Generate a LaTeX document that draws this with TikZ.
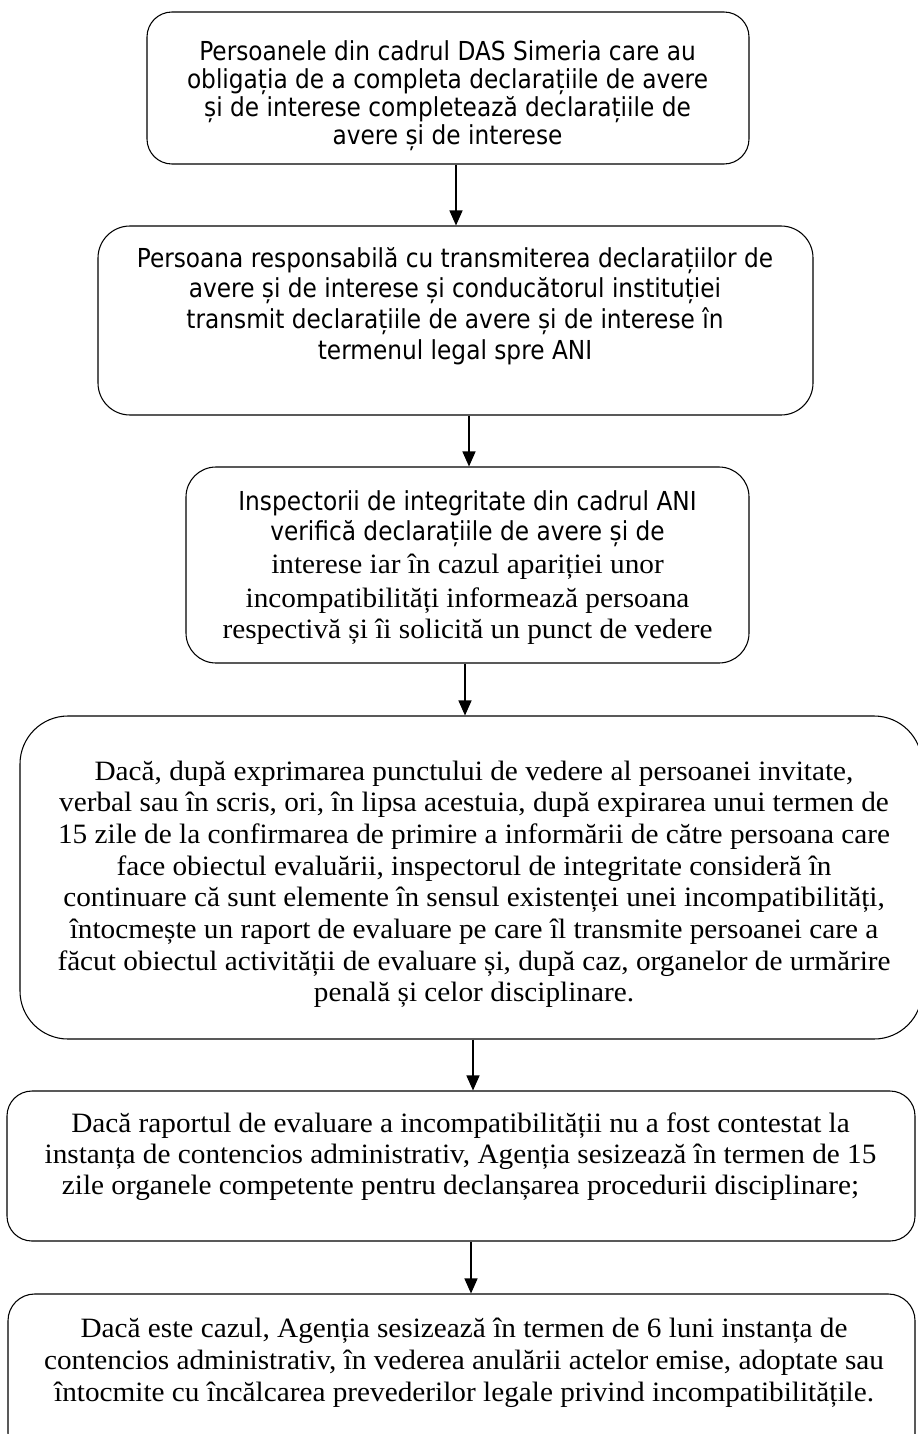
\documentclass[tikz,border=0pt]{standalone}
\usepackage{fontspec}
\usetikzlibrary{arrows.meta}
\newfontfamily\sansf[FakeStretch=0.89]{DejaVu Sans}
\newfontfamily\seriff[FakeStretch=1.045]{Liberation Serif}
\begin{document}
\begin{tikzpicture}[x=0.75pt,y=-0.75pt,
  box/.style={draw, line width=0.8pt, rectangle, inner sep=0pt},
  sline/.style={anchor=base, inner sep=0pt, font=\sansf\fontsize{19.6pt}{24pt}\selectfont},
  rline/.style={anchor=base, inner sep=0pt, font=\seriff\fontsize{21pt}{25pt}\selectfont},
  arr/.style={line width=1.1pt, -{Triangle[length=11.25pt,width=9.75pt]}}]
\useasboundingbox (0,0) rectangle (917,1434);

% boxes
\node[box, rounded corners=18.75pt, minimum width=451.5pt, minimum height=114pt] (b1) at (448,88) {};
\node[box, rounded corners=24pt, minimum width=536.25pt, minimum height=141.75pt] (b2) at (455.5,320.5) {};
\node[box, rounded corners=22.5pt, minimum width=422.25pt, minimum height=147pt] (b3) at (467.5,565) {};
\node[box, rounded corners=36pt, minimum width=676.5pt, minimum height=242.25pt] (b4) at (471,877.5) {};
\node[box, rounded corners=18.75pt, minimum width=681pt, minimum height=112.5pt] (b5) at (461,1166) {};
\node[box, rounded corners=20pt, minimum width=680.25pt, minimum height=124.5pt] (b6) at (461.5,1377) {};

% text of box 1
\node[sline] (t1-1) at (447.5,61) {Persoanele din cadrul DAS Simeria care au};
\node[sline] (t1-2) at (447.5,89) {obligația de a completa declarațiile de avere};
\node[sline] (t1-3) at (447.5,117) {și de interese completează declarațiile de};
\node[sline] (t1-4) at (447.5,145) {avere și de interese};

% text of box 2
\node[sline] (t2-1) at (455,267) {Persoana responsabilă cu transmiterea declarațiilor de};
\node[sline] (t2-2) at (455,297) {avere și de interese și conducătorul instituției};
\node[sline] (t2-3) at (455,328) {transmit declarațiile de avere și de interese în};
\node[sline] (t2-4) at (455,359) {termenul legal spre ANI};

% text of box 3
\node[sline] (t3-1) at (467.5,510) {Inspectorii de integritate din cadrul ANI};
\node[sline] (t3-2) at (467.5,540) {verifică declarațiile de avere și de};
\node[rline] (t3-3) at (467.5,573) {interese iar în cazul apariției unor};
\node[rline] (t3-4) at (467.5,607) {incompatibilități informează persoana};
\node[rline] (t3-5) at (467.5,638) {respectivă și îi solicită un punct de vedere};

% text of box 4
\foreach \t [count=\i] in {
  {Dacă, după exprimarea punctului de vedere al persoanei invitate,},
  {verbal sau în scris, ori, în lipsa acestuia, după expirarea unui termen de},
  {15 zile de la confirmarea de primire a informării de către persoana care},
  {face obiectul evaluării, inspectorul de integritate consideră în},
  {continuare că sunt elemente în sensul existenței unei incompatibilități,},
  {întocmește un raport de evaluare pe care îl transmite persoanei care a},
  {făcut obiectul activității de evaluare și, după caz, organelor de urmărire},
  {penală și celor disciplinare.}}
  \node[rline] (t4-\i) at (474,{780+31.7*(\i-1)}) {\t};

% text of box 5
\node[rline] (t5-1) at (460.5,1132) {Dacă raportul de evaluare a incompatibilității nu a fost contestat la};
\node[rline] (t5-2) at (460.5,1163) {instanța de contencios administrativ, Agenția sesizează în termen de 15};
\node[rline] (t5-3) at (460.5,1194) {zile organele competente pentru declanșarea procedurii disciplinare;};

% text of box 6
\node[rline] (t6-1) at (464,1337) {Dacă este cazul, Agenția sesizează în termen de 6 luni instanța de};
\node[rline] (t6-2) at (464,1369) {contencios administrativ, în vederea anulării actelor emise, adoptate sau};
\node[rline] (t6-3) at (464,1401) {întocmite cu încălcarea prevederilor legale privind incompatibilitățile.};

% connectors
\coordinate (a1) at (456,0);
\coordinate (a2) at (469,0);
\coordinate (a3) at (465,0);
\coordinate (a4) at (473,0);
\coordinate (a5) at (471,0);
\draw[arr] (b1.south -| a1) -- (b2.north -| a1);
\draw[arr] (b2.south -| a2) -- (b3.north -| a2);
\draw[arr] (b3.south -| a3) -- (b4.north -| a3);
\draw[arr] (b4.south -| a4) -- (b5.north -| a4);
\draw[arr] (b5.south -| a5) -- (b6.north -| a5);
\end{tikzpicture}
\end{document}
